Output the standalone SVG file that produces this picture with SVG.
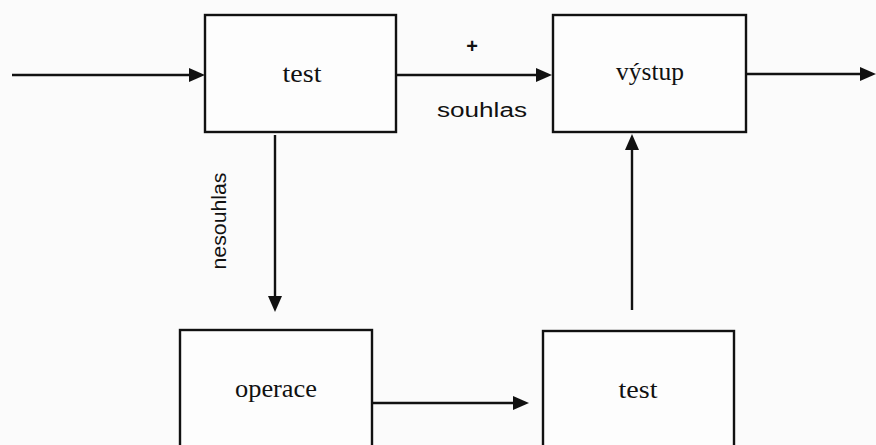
<svg xmlns="http://www.w3.org/2000/svg" width="876" height="445" viewBox="0 0 876 445">
  <defs>
    <style>
      .box { fill: #fdfdfd; stroke: #111; stroke-width: 2.4; }
      .wire { stroke: #111; stroke-width: 2.4; fill: none; }
      .head { fill: #111; }
      .node-label { font-family: "Liberation Serif", "Times New Roman", serif; font-size: 26px; fill: #111; text-anchor: middle; }
      .edge-label { font-family: "Liberation Sans", Arial, sans-serif; font-size: 20px; fill: #111; text-anchor: middle; }
    </style>
  </defs>
  <rect width="876" height="445" fill="#fbfbfb"/>

  <g id="connectors">
    <!-- input into first test -->
    <line class="wire" x1="12" y1="75" x2="190" y2="75"/>
    <polygon class="head" points="205,75 189,68 189,82"/>
    <!-- test to výstup (souhlas) -->
    <line class="wire" x1="396" y1="75" x2="536" y2="75"/>
    <polygon class="head" points="552,75 536,68 536,82"/>
    <!-- výstup output -->
    <line class="wire" x1="746" y1="74" x2="860" y2="74"/>
    <polygon class="head" points="876,74 860,67 860,81"/>
    <!-- test down to operace (nesouhlas) -->
    <line class="wire" x1="275" y1="135" x2="275" y2="297"/>
    <polygon class="head" points="275,312 268,296 282,296"/>
    <!-- operace to second test -->
    <line class="wire" x1="372" y1="403" x2="514" y2="403"/>
    <polygon class="head" points="529,403 513,396 513,410"/>
    <!-- second test up to výstup -->
    <line class="wire" x1="632" y1="310" x2="632" y2="149"/>
    <polygon class="head" points="632,134 625,150 639,150"/>

    <text class="edge-label" x="472" y="53" font-weight="bold">+</text>
    <text class="edge-label" x="482" y="117" textLength="90" lengthAdjust="spacingAndGlyphs">souhlas</text>
    <text class="edge-label" transform="translate(226,221) rotate(-90)" textLength="97" lengthAdjust="spacingAndGlyphs">nesouhlas</text>
  </g>

  <g id="test-1">
    <rect class="box" x="205" y="15" width="191" height="117"/>
    <text class="node-label" x="302" y="82" textLength="39" lengthAdjust="spacingAndGlyphs">test</text>
  </g>

  <g id="vystup">
    <rect class="box" x="553" y="15" width="193" height="117"/>
    <text class="node-label" x="650" y="80" textLength="68" lengthAdjust="spacingAndGlyphs">výstup</text>
  </g>

  <g id="operace">
    <rect class="box" x="180" y="330" width="192" height="130"/>
    <text class="node-label" x="276" y="397" textLength="82" lengthAdjust="spacingAndGlyphs">operace</text>
  </g>

  <g id="test-2">
    <rect class="box" x="543" y="331" width="191" height="130"/>
    <text class="node-label" x="638" y="398" textLength="39" lengthAdjust="spacingAndGlyphs">test</text>
  </g>
</svg>
